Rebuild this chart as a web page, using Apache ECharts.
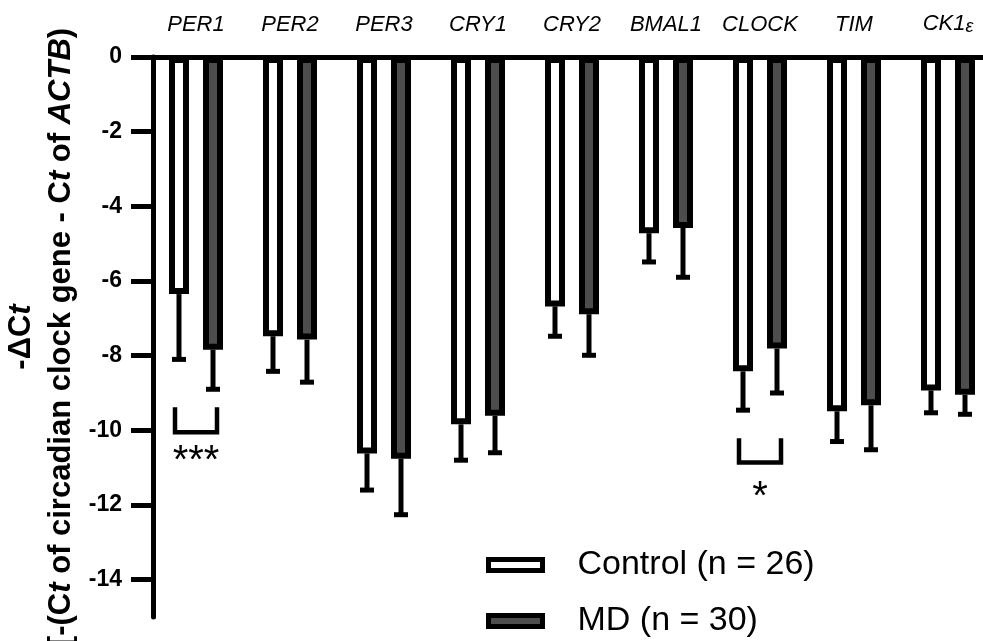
<!DOCTYPE html>
<html>
<head>
<meta charset="utf-8">
<script src="https://cdn.jsdelivr.net/npm/echarts@6/dist/echarts.min.js"></script>
<style>
html, body { margin: 0; padding: 0; background: #fff; }
#main { width: 983px; height: 641px; }
</style>
</head>
<body>
<div id="main"></div>
<script>
// genes on the top axis
var genes = ['PER1', 'PER2', 'PER3', 'CRY1', 'CRY2', 'BMAL1', 'CLOCK', 'TIM', 'CK1ε'];
// -dCt means and SD (error bars go away from zero)
var controlMean = [-6.35, -7.48, -10.62, -9.84, -6.68, -4.72, -8.42, -9.49, -8.93];
var controlSD = [1.75, 0.94, 0.98, 0.96, 0.80, 0.77, 1.04, 0.81, 0.60];
var mdMean = [-7.84, -7.57, -10.76, -9.61, -6.89, -4.58, -7.81, -9.33, -9.05];
var mdSD = [1.06, 1.14, 1.50, 0.99, 1.10, 1.32, 1.19, 1.19, 0.52];
var yTicks = [0, -2, -4, -6, -8, -10, -12, -14];
// significance brackets
var sigGenes = ['PER1', 'CLOCK'];
var sigTop = [-9.38, -10.21];
var sigBottom = [-10.05, -10.86];
var sigStarY = [-10.86, -11.82];
var sigText = ['***', '*'];

var FONT = 'Arial, "Liberation Sans", sans-serif';

var chart = echarts.init(document.getElementById('main'));

function errData(mean, sd) {
    return mean.map(function (m, i) { return [i, m, m - sd[i]]; });
}

function errRender(off) {
    return function (params, api) {
        var p0 = api.coord([api.value(0), api.value(1)]);
        var p1 = api.coord([api.value(0), api.value(2)]);
        var x = p0[0] + off;
        return {
            type: 'group',
            children: [
                { type: 'line', shape: { x1: x, y1: p0[1], x2: x, y2: p1[1] }, style: { stroke: '#000', lineWidth: 5 } },
                { type: 'line', shape: { x1: x - 7, y1: p1[1], x2: x + 7, y2: p1[1] }, style: { stroke: '#000', lineWidth: 5 } }
            ]
        };
    };
}

var sigData = sigGenes.map(function (g, i) {
    return [genes.indexOf(g), sigTop[i], sigBottom[i], sigStarY[i]];
});

var legendText = { fontSize: 34, fontFamily: FONT, color: '#000', lineHeight: 40, padding: [0, 0, 0, 30] };
var legendItem = { borderColor: '#000', borderWidth: 5 };

option = {
    animation: false,
    grid: { left: 149, top: 57, width: 846, bottom: 24, outerBoundsMode: 'none' },
    legend: [
        {
            data: ['Control (n = 26)'],
            left: 481, top: 540,
            itemWidth: 54, itemHeight: 11,
            icon: 'rect',
            selectedMode: false,
            itemStyle: legendItem,
            textStyle: legendText
        },
        {
            data: ['MD (n = 30)'],
            left: 481, top: 596,
            itemWidth: 54, itemHeight: 11,
            icon: 'rect',
            selectedMode: false,
            itemStyle: legendItem,
            textStyle: legendText
        }
    ],
    xAxis: {
        type: 'category',
        position: 'top',
        data: genes,
        axisLine: { lineStyle: { color: '#000', width: 5 } },
        axisTick: { alignWithLabel: true, length: 16, lineStyle: { color: '#000', width: 4 } },
        axisLabel: {
            margin: 21,
            formatter: function (v) {
                if (v === 'CK1ε') return '{i|CK1}{e|ε}';
                return '{i|' + v + '}';
            },
            rich: {
                i: { fontSize: 22, fontStyle: 'italic', fontFamily: FONT, color: '#000' },
                e: { fontSize: 18, fontStyle: 'italic', fontFamily: FONT, color: '#000', padding: [7, 0, 0, 0] }
            }
        }
    },
    yAxis: {
        type: 'value',
        min: -15,
        max: 0,
        offset: -4,
        name: '{a|-ΔC}{ai|t}\n{b|[-(C}{bi|t}{b| of circadian clock gene - C}{bi|t}{b| of }{bi|ACTB}{b|)}',
        nameLocation: 'middle',
        nameRotate: 90,
        nameGap: 72,
        nameTextStyle: {
            rich: {
                a: { fontSize: 31, fontWeight: 'bold', fontFamily: FONT, color: '#000', lineHeight: 40 },
                ai: { fontSize: 31, fontWeight: 'bold', fontStyle: 'italic', fontFamily: FONT, color: '#000', lineHeight: 40 },
                b: { fontSize: 31, fontWeight: 'bold', fontFamily: FONT, color: '#000', lineHeight: 40 },
                bi: { fontSize: 31, fontWeight: 'bold', fontStyle: 'italic', fontFamily: FONT, color: '#000', lineHeight: 40 }
            }
        },
        splitLine: { show: false },
        axisLine: { show: true, lineStyle: { color: '#000', width: 5 } },
        axisTick: { show: true, length: 22, customValues: yTicks, lineStyle: { color: '#000', width: 5 } },
        axisLabel: {
            customValues: yTicks,
            margin: 31,
            fontSize: 23,
            fontWeight: 'bold',
            fontFamily: FONT,
            color: '#000'
        }
    },
    series: [
        {
            name: 'Control (n = 26)',
            type: 'bar',
            data: controlMean,
            barWidth: 20,
            barGap: '70%',
            itemStyle: { color: '#fff', borderColor: '#000', borderWidth: 6 },
            z: 3
        },
        {
            name: 'MD (n = 30)',
            type: 'bar',
            data: mdMean,
            barWidth: 20,
            itemStyle: { color: '#4d4d4d', borderColor: '#000', borderWidth: 6 },
            z: 3
        },
        {
            type: 'custom',
            data: errData(controlMean, controlSD),
            renderItem: errRender(-17),
            encode: { x: 0, y: [1, 2] },
            z: 4
        },
        {
            type: 'custom',
            data: errData(mdMean, mdSD),
            renderItem: errRender(17),
            encode: { x: 0, y: [1, 2] },
            z: 4
        },
        {
            type: 'custom',
            data: sigData,
            encode: { x: 0, y: [1, 2] },
            renderItem: function (params, api) {
                var pt = api.coord([api.value(0), api.value(1)]);
                var pb = api.coord([api.value(0), api.value(2)]);
                var ps = api.coord([api.value(0), api.value(3)]);
                var cx = pt[0];
                return {
                    type: 'group',
                    children: [
                        {
                            type: 'polyline',
                            shape: { points: [[cx - 21, pt[1]], [cx - 21, pb[1]], [cx + 21, pb[1]], [cx + 21, pt[1]]] },
                            style: { stroke: '#000', lineWidth: 4.5, fill: null }
                        },
                        {
                            type: 'text',
                            x: cx,
                            y: ps[1],
                            style: {
                                text: sigText[params.dataIndex],
                                fontSize: 40,
                                fontFamily: FONT,
                                fill: '#000',
                                align: 'center',
                                verticalAlign: 'middle'
                            }
                        }
                    ]
                };
            },
            z: 4
        }
    ]
};
chart.setOption(option);
</script>
</body>
</html>
